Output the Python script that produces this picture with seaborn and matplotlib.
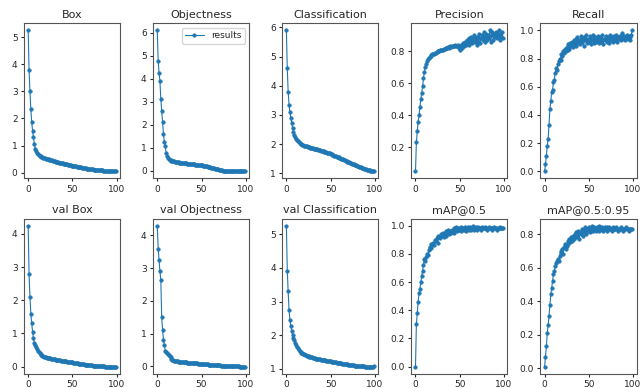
import numpy as np
import pandas as pd
import matplotlib
matplotlib.use("Agg")
import matplotlib.pyplot as plt
import seaborn as sns

# titles of the 10 panels (YOLO style results plot)
titles = ["Box", "Objectness", "Classification", "Precision", "Recall",
          "val Box", "val Objectness", "val Classification", "mAP@0.5", "mAP@0.5:0.95"]

epochs = list(range(100))

box = [5.25, 3.80, 3.00, 2.35, 1.85, 1.55, 1.30, 1.05, 0.88, 0.78,
       0.72, 0.68, 0.65, 0.62, 0.60, 0.58, 0.57, 0.55, 0.54, 0.53,
       0.52, 0.51, 0.50, 0.49, 0.48, 0.47, 0.46, 0.45, 0.44, 0.43,
       0.42, 0.41, 0.40, 0.39, 0.38, 0.37, 0.37, 0.36, 0.35, 0.34,
       0.33, 0.32, 0.32, 0.31, 0.30, 0.29, 0.29, 0.28, 0.27, 0.26,
       0.26, 0.25, 0.24, 0.24, 0.23, 0.22, 0.22, 0.21, 0.20, 0.20,
       0.19, 0.18, 0.18, 0.17, 0.17, 0.16, 0.15, 0.15, 0.14, 0.14,
       0.13, 0.13, 0.12, 0.12, 0.11, 0.11, 0.10, 0.10, 0.10, 0.09,
       0.09, 0.09, 0.08, 0.08, 0.08, 0.07, 0.07, 0.07, 0.07, 0.06,
       0.06, 0.06, 0.06, 0.06, 0.05, 0.05, 0.05, 0.05, 0.05, 0.05]

objectness = [6.10, 4.75, 4.25, 3.90, 3.10, 2.60, 2.10, 1.60, 1.25, 1.05,
              0.75, 0.62, 0.55, 0.50, 0.47, 0.45, 0.43, 0.42, 0.41, 0.40,
              0.39, 0.38, 0.37, 0.37, 0.36, 0.35, 0.35, 0.34, 0.33, 0.33,
              0.32, 0.32, 0.31, 0.31, 0.30, 0.30, 0.29, 0.29, 0.28, 0.28,
              0.27, 0.27, 0.27, 0.26, 0.26, 0.26, 0.25, 0.25, 0.25, 0.24,
              0.24, 0.23, 0.22, 0.21, 0.20, 0.19, 0.18, 0.17, 0.16, 0.15,
              0.14, 0.13, 0.12, 0.11, 0.10, 0.09, 0.08, 0.07, 0.06, 0.05,
              0.04, 0.03, 0.02, 0.01, 0.00, -0.01, -0.02, -0.02, -0.02, -0.02,
              -0.02, -0.02, -0.02, -0.03, -0.03, -0.03, -0.03, -0.03, -0.03, -0.03,
              -0.03, -0.03, -0.03, -0.03, -0.03, -0.03, -0.03, -0.03, -0.03, -0.03]

classification = [5.90, 4.60, 3.80, 3.35, 3.10, 2.90, 2.72, 2.55, 2.42, 2.32,
                  2.24, 2.18, 2.13, 2.09, 2.06, 2.03, 2.01, 1.99, 1.97, 1.96,
                  1.95, 1.94, 1.93, 1.92, 1.91, 1.90, 1.89, 1.88, 1.88, 1.87,
                  1.86, 1.85, 1.84, 1.83, 1.82, 1.82, 1.81, 1.80, 1.79, 1.78,
                  1.77, 1.76, 1.75, 1.74, 1.73, 1.72, 1.71, 1.70, 1.69, 1.68,
                  1.67, 1.65, 1.64, 1.63, 1.61, 1.60, 1.59, 1.57, 1.56, 1.55,
                  1.53, 1.52, 1.50, 1.49, 1.48, 1.46, 1.45, 1.43, 1.42, 1.40,
                  1.39, 1.38, 1.36, 1.35, 1.33, 1.32, 1.31, 1.29, 1.28, 1.27,
                  1.25, 1.24, 1.23, 1.21, 1.20, 1.19, 1.18, 1.17, 1.16, 1.15,
                  1.14, 1.13, 1.12, 1.11, 1.10, 1.09, 1.08, 1.08, 1.07, 1.07]

precision = [0.05, 0.23, 0.30, 0.36, 0.40, 0.45, 0.50, 0.54, 0.58, 0.63,
             0.67, 0.70, 0.72, 0.74, 0.75, 0.76, 0.765, 0.77, 0.775, 0.78,
             0.78, 0.785, 0.79, 0.79, 0.795, 0.80, 0.80, 0.80, 0.805, 0.81,
             0.81, 0.81, 0.815, 0.815, 0.82, 0.82, 0.82, 0.825, 0.82, 0.83,
             0.825, 0.83, 0.83, 0.835, 0.83, 0.84, 0.835, 0.83, 0.84, 0.82,
             0.81, 0.83, 0.84, 0.82, 0.85, 0.83, 0.86, 0.84, 0.87, 0.85,
             0.88, 0.84, 0.86, 0.89, 0.85, 0.87, 0.90, 0.86, 0.88, 0.84,
             0.89, 0.86, 0.91, 0.85, 0.88, 0.90, 0.87, 0.92, 0.86, 0.89,
             0.91, 0.87, 0.90, 0.88, 0.93, 0.86, 0.90, 0.92, 0.87, 0.91,
             0.89, 0.92, 0.88, 0.90, 0.93, 0.87, 0.91, 0.89, 0.92, 0.88]

recall = [0.00, 0.05, 0.11, 0.18, 0.23, 0.33, 0.44, 0.50, 0.56, 0.58,
          0.63, 0.65, 0.70, 0.73, 0.72, 0.76, 0.78, 0.80, 0.79, 0.83,
          0.82, 0.85, 0.84, 0.87, 0.85, 0.88, 0.86, 0.90, 0.87, 0.91,
          0.89, 0.92, 0.88, 0.93, 0.90, 0.94, 0.89, 0.95, 0.91, 0.93,
          0.90, 0.96, 0.92, 0.94, 0.89, 0.95, 0.93, 0.97, 0.91, 0.94,
          0.92, 0.96, 0.90, 0.94, 0.93, 0.97, 0.91, 0.95, 0.92, 0.94,
          0.96, 0.91, 0.93, 0.95, 0.92, 0.97, 0.90, 0.94, 0.93, 0.96,
          0.92, 0.95, 0.94, 0.91, 0.97, 0.93, 0.95, 0.92, 0.96, 0.94,
          0.93, 0.97, 0.92, 0.95, 0.94, 0.96, 0.93, 0.98, 0.94, 0.95,
          0.96, 0.93, 0.95, 0.97, 0.94, 0.96, 0.93, 0.95, 0.97, 1.00]

val_box = [4.25, 2.78, 2.10, 1.60, 1.30, 1.05, 0.85, 0.72, 0.64, 0.58,
           0.52, 0.47, 0.43, 0.40, 0.37, 0.35, 0.33, 0.31, 0.30, 0.29,
           0.28, 0.27, 0.27, 0.26, 0.25, 0.25, 0.24, 0.23, 0.23, 0.22,
           0.22, 0.21, 0.21, 0.20, 0.20, 0.19, 0.19, 0.18, 0.18, 0.17,
           0.17, 0.17, 0.16, 0.16, 0.15, 0.15, 0.14, 0.14, 0.14, 0.13,
           0.13, 0.12, 0.12, 0.11, 0.11, 0.10, 0.10, 0.09, 0.09, 0.08,
           0.08, 0.08, 0.07, 0.07, 0.06, 0.06, 0.06, 0.05, 0.05, 0.05,
           0.04, 0.04, 0.04, 0.03, 0.03, 0.03, 0.02, 0.02, 0.02, 0.02,
           0.01, 0.01, 0.01, 0.01, 0.01, 0.01, 0.01, 0.00, 0.00, 0.00,
           0.00, 0.00, 0.00, 0.00, 0.00, 0.00, 0.00, 0.00, 0.00, 0.00]

val_objectness = [4.30, 3.60, 3.25, 2.90, 2.65, 1.50, 1.12, 0.80, 0.65, 0.48,
                  0.43, 0.40, 0.38, 0.35, 0.31, 0.27, 0.23, 0.20, 0.18, 0.17,
                  0.16, 0.16, 0.15, 0.15, 0.14, 0.14, 0.14, 0.13, 0.13, 0.13,
                  0.12, 0.12, 0.12, 0.12, 0.11, 0.11, 0.11, 0.11, 0.10, 0.10,
                  0.10, 0.10, 0.09, 0.09, 0.09, 0.09, 0.08, 0.08, 0.08, 0.08,
                  0.07, 0.07, 0.07, 0.07, 0.06, 0.06, 0.06, 0.06, 0.05, 0.05,
                  0.05, 0.05, 0.04, 0.04, 0.04, 0.04, 0.04, 0.03, 0.03, 0.03,
                  0.03, 0.03, 0.02, 0.02, 0.02, 0.02, 0.02, 0.01, 0.01, 0.01,
                  0.01, 0.01, 0.01, 0.01, 0.00, 0.00, 0.00, 0.00, 0.00, 0.00,
                  0.00, 0.00, 0.00, -0.01, -0.01, -0.01, -0.01, -0.01, -0.01, -0.01]

val_classification = [5.25, 3.92, 3.30, 2.75, 2.45, 2.28, 2.12, 2.00, 1.92, 1.85,
                      1.78, 1.72, 1.66, 1.61, 1.57, 1.54, 1.51, 1.48, 1.46, 1.44,
                      1.43, 1.41, 1.40, 1.39, 1.38, 1.37, 1.36, 1.35, 1.35, 1.34,
                      1.33, 1.33, 1.32, 1.31, 1.31, 1.30, 1.30, 1.29, 1.29, 1.28,
                      1.28, 1.27, 1.27, 1.26, 1.26, 1.25, 1.25, 1.24, 1.24, 1.23,
                      1.23, 1.22, 1.22, 1.21, 1.21, 1.20, 1.20, 1.19, 1.19, 1.18,
                      1.18, 1.17, 1.17, 1.16, 1.16, 1.15, 1.15, 1.14, 1.14, 1.14,
                      1.13, 1.13, 1.12, 1.12, 1.12, 1.11, 1.11, 1.10, 1.10, 1.10,
                      1.09, 1.09, 1.09, 1.09, 1.08, 1.08, 1.08, 1.08, 1.08, 1.07,
                      1.07, 1.07, 1.07, 1.07, 1.07, 1.07, 1.07, 1.07, 1.07, 1.08]

map50 = [0.00, 0.30, 0.38, 0.46, 0.52, 0.55, 0.60, 0.64, 0.68, 0.72,
         0.76, 0.75, 0.78, 0.80, 0.79, 0.83, 0.85, 0.84, 0.87, 0.86,
         0.88, 0.86, 0.90, 0.89, 0.91, 0.88, 0.93, 0.92, 0.91, 0.94,
         0.93, 0.95, 0.92, 0.94, 0.96, 0.93, 0.95, 0.97, 0.94, 0.96,
         0.95, 0.97, 0.96, 0.98, 0.95, 0.97, 0.99, 0.96, 0.98, 0.97,
         0.98, 0.96, 0.99, 0.97, 0.98, 0.97, 0.99, 0.96, 0.98, 0.99,
         0.97, 0.98, 0.99, 0.97, 0.98, 1.00, 0.97, 0.98, 0.99, 0.98,
         0.97, 0.99, 0.98, 0.98, 0.97, 0.99, 0.98, 0.98, 0.99, 0.98,
         0.98, 0.97, 0.98, 0.99, 0.98, 0.98, 0.97, 0.98, 0.98, 0.99,
         0.98, 0.98, 0.97, 0.98, 0.98, 0.98, 0.99, 0.98, 0.98, 0.98]

map50_95 = [0.01, 0.07, 0.13, 0.21, 0.26, 0.31, 0.38, 0.44, 0.48, 0.52,
            0.56, 0.58, 0.61, 0.63, 0.64, 0.65, 0.64, 0.67, 0.69, 0.70,
            0.71, 0.68, 0.72, 0.74, 0.71, 0.73, 0.76, 0.74, 0.77, 0.75,
            0.78, 0.76, 0.79, 0.77, 0.80, 0.78, 0.81, 0.79, 0.82, 0.77,
            0.81, 0.80, 0.83, 0.79, 0.82, 0.81, 0.84, 0.80, 0.83, 0.82,
            0.84, 0.81, 0.83, 0.82, 0.85, 0.82, 0.84, 0.83, 0.82, 0.84,
            0.83, 0.85, 0.82, 0.84, 0.83, 0.84, 0.82, 0.83, 0.84, 0.83,
            0.84, 0.82, 0.83, 0.84, 0.83, 0.83, 0.82, 0.84, 0.83, 0.83,
            0.83, 0.84, 0.83, 0.82, 0.83, 0.83, 0.84, 0.83, 0.83, 0.82,
            0.83, 0.83, 0.84, 0.83, 0.83, 0.82, 0.83, 0.83, 0.83, 0.83]

series = [box, objectness, classification, precision, recall,
          val_box, val_objectness, val_classification, map50, map50_95]

# y tick spacing per panel
ystep = [1, 1, 1, 0.2, 0.2, 1, 1, 1, 0.2, 0.2]

sns.set_style("ticks")
plt.rcParams["font.family"] = ["DejaVu Sans"]

fig, axes = plt.subplots(2, 5, figsize=(6.43, 3.88), dpi=100)
axes = axes.ravel()
for i, ax in enumerate(axes):
    df = pd.DataFrame({"epoch": epochs, "value": series[i]})
    sns.lineplot(data=df, x="epoch", y="value", ax=ax, marker=".", color="#1f77b4",
                 linewidth=0.8, markersize=5, markeredgecolor="#1f77b4",
                 markeredgewidth=0.5, label="results" if i == 1 else None)
    ax.set_title(titles[i], fontsize=8, pad=4)
    ax.set_xlabel("")
    ax.set_ylabel("")
    ax.set_xticks([0, 50, 100])
    ax.yaxis.set_major_locator(plt.MultipleLocator(ystep[i]))
    ax.tick_params(labelsize=6.5, length=2.5, pad=2)
    for s in ax.spines.values():
        s.set_color("#555555")
        s.set_linewidth(0.8)
    if i == 1:
        ax.legend(loc="upper right", fontsize=6.5, frameon=True, handlelength=2)
    elif ax.get_legend() is not None:
        ax.get_legend().remove()

fig.subplots_adjust(left=0.037, right=0.99, top=0.94, bottom=0.037,
                    wspace=0.34, hspace=0.26)
fig.savefig("out.png", dpi=100)
